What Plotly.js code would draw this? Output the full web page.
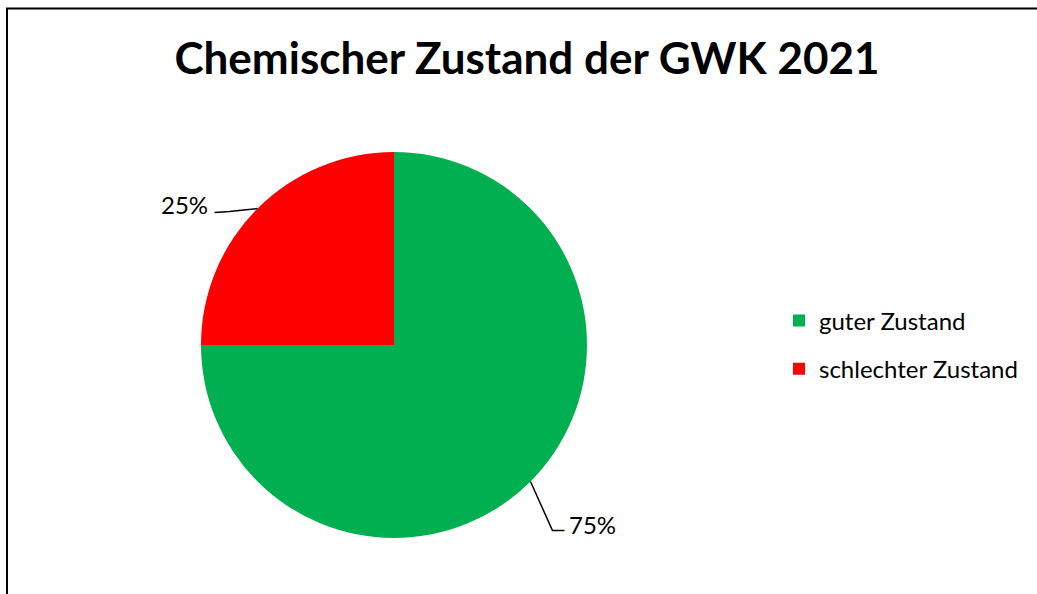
<!DOCTYPE html>
<html>
<head>
<meta charset="utf-8">
<script src="https://cdn.plot.ly/plotly-3.0.1.min.js"></script>
<style>html,body{margin:0;padding:0;background:#fff;}#chart{width:1037px;height:594px;}</style>
</head>
<body>
<div id="chart"></div>
<script>
// Data
const categories = ["guter Zustand", "schlechter Zustand"];
const values = [75, 25];
const colors = ["#00B050", "#FF0000"];
const titleText = "Chemischer Zustand der GWK 2021";

const W = 1037, H = 594;
const cx = 394, cy = 345, R = 193; // pie geometry in px
const px = x => x / W;
const py = y => 1 - y / H;
const FONT = "Lato, sans-serif";

const total = values.reduce((a, b) => a + b, 0);

// Leader lines and outside labels computed from data
const shapes = [];
const annotations = [];
// Chart border
shapes.push({type: "rect", xref: "paper", yref: "paper", x0: px(7), x1: px(1045), y0: py(8.5), y1: py(600), line: {color: "#000", width: 2}, fillcolor: "rgba(0,0,0,0)"});

let cum = 0;
values.forEach((v, i) => {
  const frac = v / total;
  const mid = (cum + frac / 2) * 2 * Math.PI; // clockwise from 12 o'clock
  cum += frac;
  const ex = cx + R * Math.sin(mid);
  const ey = cy - R * Math.cos(mid);
  const pct = Math.round(frac * 100) + "%";
  let path, ann;
  if (Math.sin(mid) >= 0) {
    const bx = ex + 22, by = ey + 49;
    const hx = bx + 12;
    path = `M ${px(ex)} ${py(ey)} L ${px(bx)} ${py(by)} L ${px(hx)} ${py(by)}`;
    ann = {x: px(hx + 3), y: py(by - 6), text: pct, xanchor: "left", yanchor: "middle"};
  } else {
    const bx = ex - 28, by = ey + 3;
    const hx = bx - 15;
    path = `M ${px(ex)} ${py(ey)} L ${px(bx)} ${py(by)} L ${px(hx)} ${py(by + 1)}`;
    ann = {x: px(hx - 5), y: py(by - 7), text: pct, xanchor: "right", yanchor: "middle"};
  }
  shapes.push({type: "path", xref: "paper", yref: "paper", path: path, line: {color: "#000", width: 1.5}});
  annotations.push(Object.assign({xref: "paper", yref: "paper", showarrow: false, font: {family: FONT, size: 24, color: "#000"}}, ann));
});

const traces = [{
  type: "pie",
  labels: categories,
  values: values,
  marker: {colors: colors, line: {width: 0}},
  sort: false,
  direction: "clockwise",
  rotation: 0,
  textinfo: "none",
  hoverinfo: "label+percent",
  showlegend: false,
  domain: {x: [px(cx - R), px(cx + R)], y: [py(cy + R), py(cy - R)]}
}];

// Legend entries (one per category, same colours as the slices)
categories.forEach((c, i) => {
  traces.push({
    type: "scatter", mode: "markers", x: [null], y: [null],
    name: c, legendgroup: "g" + i, showlegend: true,
    marker: {symbol: "square", size: 12, color: colors[i]},
    hoverinfo: "skip"
  });
});

const layout = {
  width: W, height: H,
  margin: {l: 0, r: 0, t: 0, b: 0},
  paper_bgcolor: "#fff",
  plot_bgcolor: "rgba(0,0,0,0)",
  xaxis: {visible: false}, yaxis: {visible: false},
  title: {text: "<b>" + titleText + "</b>", x: 527 / W, xanchor: "center", y: py(59), yanchor: "middle", font: {family: FONT, size: 44, color: "#000"}},
  showlegend: true,
  legend: {x: px(779), y: py(345), xanchor: "left", yanchor: "middle", traceorder: "grouped", tracegroupgap: 14, font: {family: FONT, size: 24, color: "#000"}, itemwidth: 30, bgcolor: "rgba(0,0,0,0)"},
  shapes: shapes,
  annotations: annotations
};

Plotly.newPlot("chart", traces, layout, {displayModeBar: false, staticPlot: true});
</script>
</body>
</html>
